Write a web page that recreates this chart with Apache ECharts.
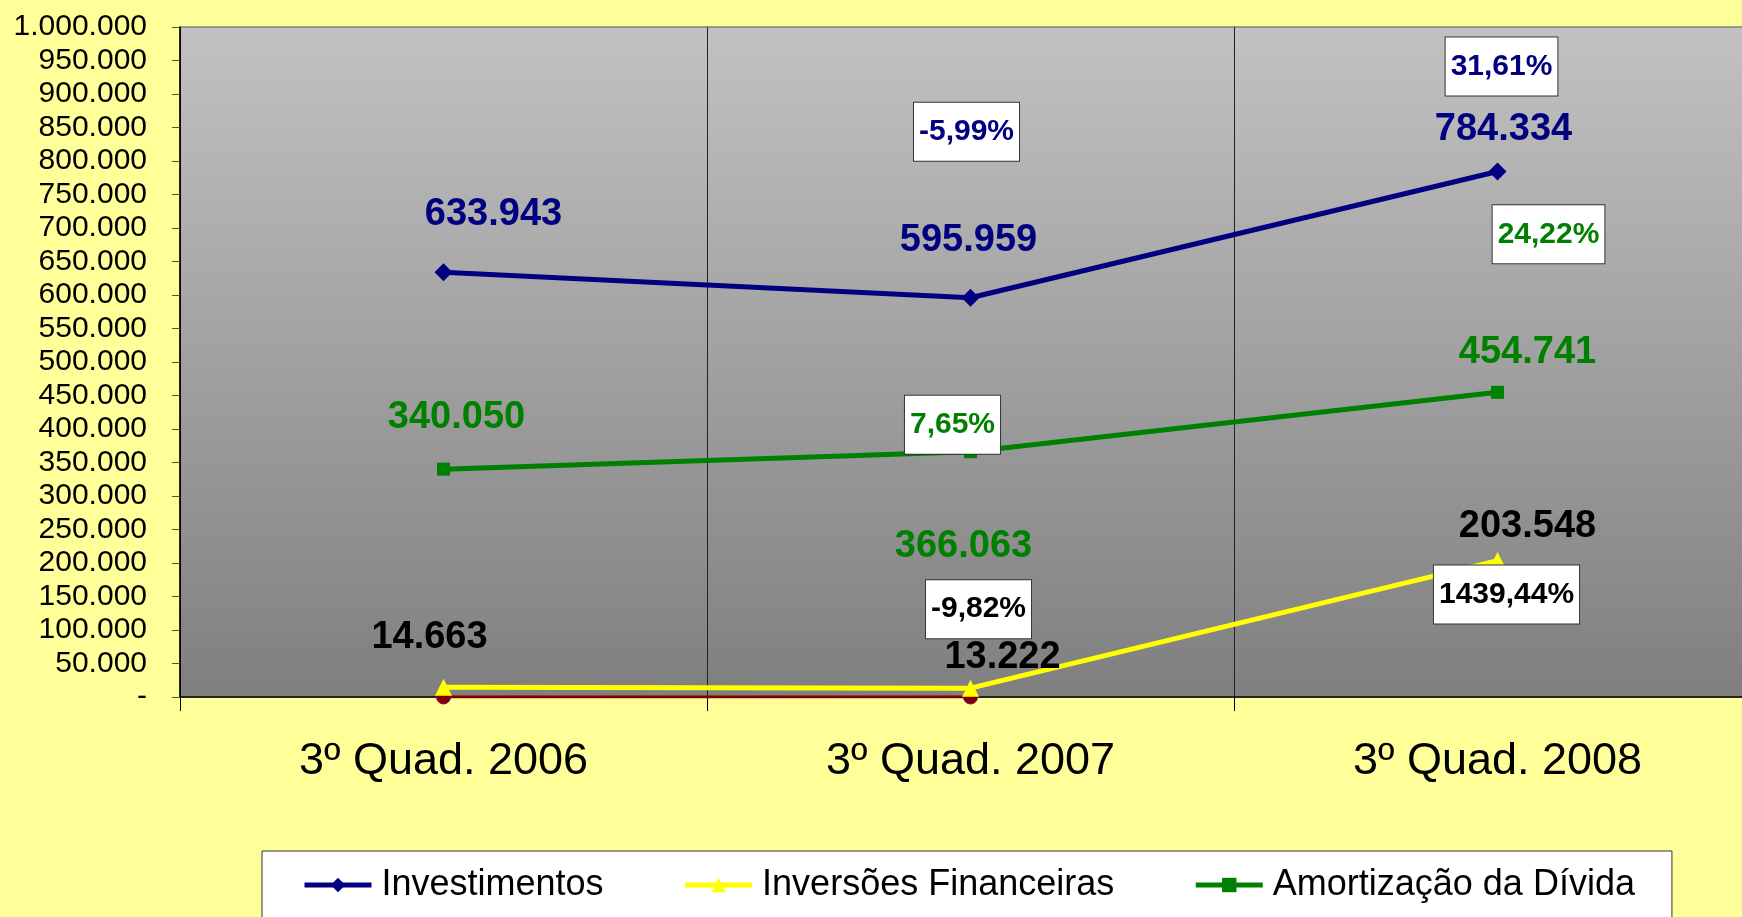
<!DOCTYPE html>
<html>
<head>
<meta charset="utf-8">
<script src="https://cdn.jsdelivr.net/npm/echarts@6/dist/echarts.min.js"></script>
<style>
html,body{margin:0;padding:0;background:#ffff99;}
#main{width:1742px;height:917px;}
</style>
</head>
<body>
<div id="main"></div>
<script>
// categorias e valores
var categorias=['3º Quad. 2006','3º Quad. 2007','3º Quad. 2008'];
var investimentos=[633943,595959,784334];
var inversoes=[14663,13222,203548];
var amortizacao=[340050,366063,454741];
var outros=[0,0,null];
// variacao percentual
var pctInvestimentos=[null,'-5,99%','31,61%'];
var pctInversoes=[null,'-9,82%','1439,44%'];
var pctAmortizacao=[null,'7,65%','24,22%'];
// eixo y
var yMin=0,yMax=1000000,yStep=50000;

// deslocamento dos rotulos (px)
var offInv=[[50,-58],[-2,-57],[6,-42]];
var offAmo=[[13,-52],[-7,95],[30,-40]];
var offInvF=[[-14,-50],[32,-31],[30,-34]];
var offPctInv=[null,[-4,-166],[4,-105]];
var offPctAmo=[null,[-18,-27],[51,-158]];
var offPctInvF=[null,[8,-79],[9,34]];

var font='Liberation Sans, Arial, sans-serif';
var myChart=echarts.init(document.getElementById('main'));

function fmt(v){
	if(v==0) return '-';
	return String(v).replace(/\B(?=(\d{3})+(?!\d))/g,'.');
}
// dados com rotulo de valor
function valData(arr,off,cor){
	var res=[];
	for(var i=0;i<arr.length;i++){
		res.push({value:arr[i],label:{offset:off[i],color:cor}});
	}
	return res;
}
// caixas de percentual
function pctSerie(nome,vals,pct,off,cor){
	var d=[];
	for(var i=0;i<vals.length;i++){
		if(pct[i]==null){d.push(null);continue;}
		d.push({value:vals[i],pct:pct[i],label:{offset:off[i]}});
	}
	return {
		name:nome,type:'scatter',data:d,symbolSize:2,z:10,
		itemStyle:{color:'rgba(0,0,0,0)',opacity:1},
		label:{
			show:true,position:'inside',
			formatter:function(p){return p.data.pct;},
			color:cor,fontFamily:font,fontWeight:'bold',fontSize:30,lineHeight:34,
			backgroundColor:'#ffffff',borderColor:'#333333',borderWidth:1,
			padding:[12,5,12,5]
		},
		silent:true
	};
}
function linha(nome,arr,off,cor,txtCor,simbolo,tam){
	return {
		name:nome,type:'line',data:valData(arr,off,txtCor),
		symbol:simbolo,symbolSize:tam,showAllSymbol:true,
		lineStyle:{color:cor,width:5},
		itemStyle:{color:cor},
		label:{show:true,position:'inside',fontFamily:font,fontWeight:'bold',fontSize:38,
			formatter:function(p){return fmt(p.value);}},
		z:3
	};
}

var option={
	backgroundColor:'#ffff99',
	animation:false,
	grid:{
		left:180,top:27,width:1581,height:670,
		outerBoundsMode:'none',containLabel:false,
		show:true,borderColor:'#808080',borderWidth:1.5,
		backgroundColor:new echarts.graphic.LinearGradient(0,0,0,1,[
			{offset:0,color:'#c2c2c2'},{offset:1,color:'#7f7f7f'}
		])
	},
	legend:{
		data:['Investimentos','Inversões Financeiras','Amortização da Dívida'],
		left:262,top:851,
		padding:[16,37,40,40],
		itemGap:79,itemWidth:67,itemHeight:18,
		lineStyle:{width:5},
		backgroundColor:'#ffffff',borderColor:'#333333',borderWidth:1,
		textStyle:{fontFamily:font,fontSize:36,color:'#000',padding:[0,0,0,5]}
	},
	xAxis:{
		type:'category',data:categorias,boundaryGap:true,
		axisLine:{lineStyle:{color:'#000',width:1.5}},
		axisTick:{show:true,length:14,lineStyle:{color:'#000'}},
		splitLine:{show:true,lineStyle:{color:'#222',width:1}},
		axisLabel:{fontFamily:font,fontSize:45,color:'#000',margin:42}
	},
	yAxis:{
		type:'value',min:yMin,max:yMax,interval:yStep,
		axisLine:{show:true,lineStyle:{color:'#000',width:1.5}},
		axisTick:{show:true,length:8,lineStyle:{color:'#555533'}},
		splitLine:{show:false},
		axisLabel:{fontFamily:font,fontSize:30,color:'#000',margin:33,formatter:fmt}
	},
	series:[
		linha('Investimentos',investimentos,offInv,'#000080','#000080','diamond',18),
		linha('Inversões Financeiras',inversoes,offInvF,'#ffff00','#000000','triangle',17),
		linha('Amortização da Dívida',amortizacao,offAmo,'#008000','#008000','rect',13),
		{
			name:'Outros',type:'line',data:outros,symbol:'circle',symbolSize:14,
			lineStyle:{color:'#800000',width:3},
			itemStyle:{color:'#800000',borderColor:'#800080',borderWidth:1},
			z:2
		},
		pctSerie('pctInv',investimentos,pctInvestimentos,offPctInv,'#000080'),
		pctSerie('pctAmo',amortizacao,pctAmortizacao,offPctAmo,'#008000'),
		pctSerie('pctInvF',inversoes,pctInversoes,offPctInvF,'#000000')
	]
};
myChart.setOption(option);
</script>
</body>
</html>
